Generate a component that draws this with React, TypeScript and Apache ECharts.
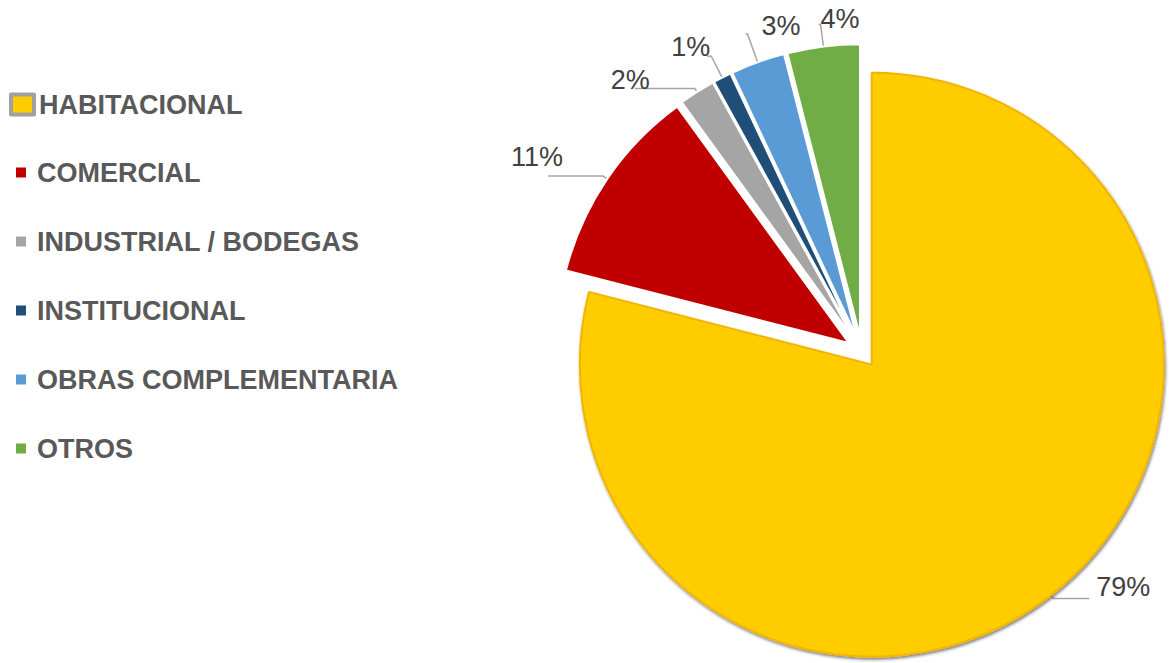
import React, { useEffect, useRef } from "react";
import * as echarts from "echarts";

const categories = [
  "HABITACIONAL",
  "COMERCIAL",
  "INDUSTRIAL / BODEGAS",
  "INSTITUCIONAL",
  "OBRAS COMPLEMENTARIA",
  "OTROS",
];
const values = [79, 11, 2, 1, 3, 4];
const colors = ["#FFCC00", "#C00000", "#A5A5A5", "#1F4E79", "#5B9BD5", "#70AD47"];
// leader line [length, length2] per slice
const leaderLines = [
  [4, 36],
  [5, 55],
  [4, 60],
  [24, 4],
  [30, 2],
  [22, 2],
];
// label styling per slice: [distance to leader line, line height (lifts the label)]
const labelPlacement = [
  [7, 24],
  [-15, 38],
  [-15, 18],
  [-3, 18],
  [-55, 16],
  [-41, 12],
];

const legendText = {
  fontFamily: "Liberation Sans",
  fontWeight: "bold",
  fontSize: 27,
  color: "#595959",
};

export default function App() {
  const ref = useRef<HTMLDivElement>(null);
  useEffect(() => {
    if (!ref.current) return;
    const chart = echarts.init(ref.current, null, { renderer: "svg" });
    chart.setOption({
      animation: false,
      backgroundColor: "#FFFFFF",
      legend: [
        {
          orient: "vertical",
          left: 4,
          top: 86,
          itemWidth: 23,
          itemHeight: 20,
          icon: "rect",
          selectedMode: false,
          textStyle: { ...legendText },
          data: [
            {
              name: categories[0],
              itemStyle: { color: colors[0], borderColor: "#A0A0A0", borderWidth: 4 },
            },
          ],
        },
        {
          orient: "vertical",
          left: 9,
          top: 154,
          itemWidth: 12,
          itemHeight: 12,
          itemGap: 42,
          icon: "rect",
          selectedMode: false,
          textStyle: { ...legendText, padding: [0, 0, 0, 5] },
          data: categories.slice(1),
        },
      ],
      series: [
        {
          type: "pie",
          center: [862, 352],
          radius: 292,
          startAngle: 90,
          clockwise: true,
          selectedMode: "multiple",
          selectedOffset: 16,
          avoidLabelOverlap: false,
          label: {
            show: true,
            formatter: "{d}%\n",
            fontFamily: "Liberation Sans",
            fontSize: 27,
            color: "#404040",
          },
          labelLine: {
            show: true,
            lineStyle: { color: "#A6A6A6", width: 1.5 },
          },
          emphasis: { disabled: true },
          data: categories.map((c, i) => ({
            name: c,
            value: values[i],
            selected: true,
            label: {
              distanceToLabelLine: labelPlacement[i][0],
              lineHeight: labelPlacement[i][1],
            },
            labelLine: { length: leaderLines[i][0], length2: leaderLines[i][1] },
            itemStyle: {
              color: colors[i],
              borderColor: i === 0 ? "#F2B600" : "#FFFFFF",
              borderWidth: 2,
              ...(i === 0
                ? {
                    shadowColor: "rgba(0,0,0,0.5)",
                    shadowBlur: 3,
                    shadowOffsetX: 1,
                    shadowOffsetY: 2,
                  }
                : {}),
            },
          })),
        },
      ],
    });
    return () => chart.dispose();
  }, []);
  return (
    <div
      ref={ref}
      style={{ position: "fixed", left: 0, top: 0, width: 1169, height: 663 }}
    />
  );
}
